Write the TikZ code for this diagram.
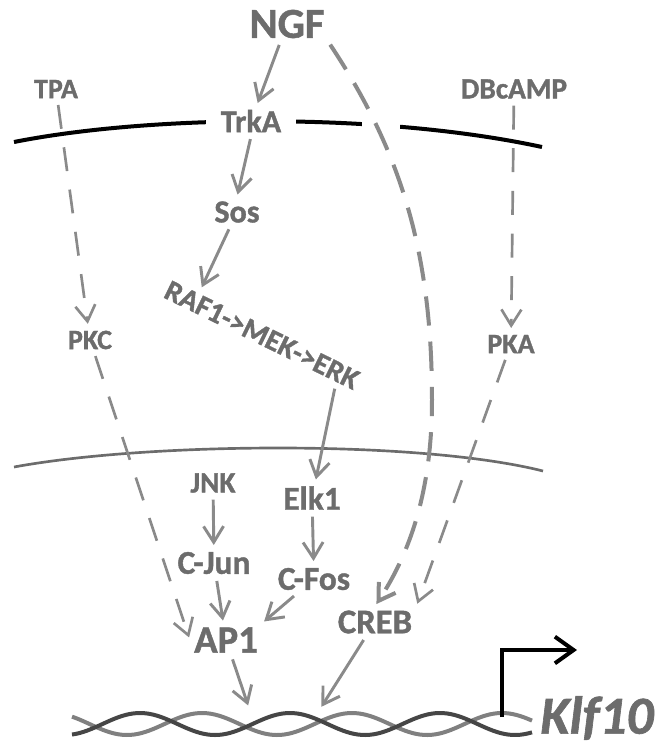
\documentclass[tikz,border=0pt]{standalone}
\usepackage{fontspec}
\setmainfont{Carlito}[BoldFeatures={FakeBold=1.2}, BoldItalicFeatures={FakeBold=1.2}]
\usepackage{xcolor}
\usepackage{tikz}
\usetikzlibrary{arrows.meta,calc}

\definecolor{txtgray}{RGB}{108,108,108}
\definecolor{arrgray}{RGB}{138,138,138}
\definecolor{dnadark}{RGB}{70,70,70}
\definecolor{dnalight}{RGB}{128,128,128}
\newcommand{\setfs}[1]{\fontsize{#1}{#1}\selectfont}

\begin{document}
\begin{tikzpicture}[x=0.75pt, y=-0.75pt,
    lbl/.style={text=txtgray, inner sep=3pt},
    arr/.style={-{Straight Barb[length=12pt, width=15pt]}, draw=arrgray, line width=2.2pt,
        shorten <=2pt, shorten >=2pt},
    darr/.style={arr, line width=2pt, dash pattern=on 18pt off 14pt}]

    \useasboundingbox (0,0) rectangle (670,744);

    % cell and nuclear membranes
    \draw[line width=3pt] (14,142) .. controls (150,115) and (380,112) .. (542,147);
    \fill[white] (362,105) rectangle (400,145);
    \draw[txtgray, line width=2pt] (14,467) .. controls (150,442) and (420,440) .. (543,471);

    \node[lbl, font=\bfseries\setfs{32}] (ngf) at (287,24) {NGF};
    \node[lbl, font=\bfseries\setfs{21}] (tpa) at (56,89) {TPA};
    \node[lbl, font=\bfseries\setfs{22}] (dbc) at (514,89) {DBcAMP};
    \node[lbl, font=\bfseries\setfs{24}, fill=white, inner xsep=11pt] (trka) at (251,121) {TrkA};
    \node[lbl, font=\bfseries\setfs{24}] (sos) at (237,212) {Sos};
    \node[lbl, font=\bfseries\setfs{22}, rotate=-26] (raf) at (262,335) {RAF1->MEK->ERK};
    \node[lbl, font=\bfseries\setfs{21}] (pkc) at (90,340) {PKC};
    \node[lbl, font=\bfseries\setfs{21}] (pka) at (511,344) {PKA};
    \node[lbl, font=\bfseries\setfs{22}] (jnk) at (213,483) {JNK};
    \node[lbl, font=\bfseries\setfs{25}] (elk) at (312,498) {Elk1};
    \node[lbl, font=\bfseries\setfs{25}] (cjun) at (214,563) {C-Jun};
    \node[lbl, font=\bfseries\setfs{25}] (cfos) at (314,579) {C-Fos};
    \node[lbl, font=\bfseries\setfs{29}] (ap1) at (226,640) {AP1};
    \node[lbl, font=\bfseries\setfs{26}] (creb) at (375,622) {CREB};
    \node[lbl, font=\bfseries\itshape\setfs{40}, inner sep=0pt] (klf) at (597,718) {Klf10};

    \coordinate (dnaA) at (249,708);
    \coordinate (dnaC) at (320,709);
    \coordinate (tss) at (502,717);
    \coordinate (tssend) at (577,650);

    \draw[arr] (ngf) -- (trka);
    \draw[arr] (trka.south) -- (sos.north);
    \draw[arr] (sos) -- ($(raf.north west)!0.16!(raf.north east)$);
    \draw[arr] ($(raf.south west)!0.9!(raf.south east)$) -- (elk);
    \draw[darr] (tpa) -- (pkc);
    \draw[darr] (pkc) -- (ap1.west);
    \draw[darr] (dbc) -- (pka);
    \draw[darr] (pka) -- (creb.north east);
    \draw[darr, line width=3pt, dash pattern=on 22pt off 12pt] (ngf.south east)
        .. controls (400,150) and (432,250) .. (432,400)
        .. controls (432,500) and (405,560) .. (creb.north);
    \draw[arr] (jnk) -- (cjun);
    \draw[arr] (elk) -- (cfos);
    \draw[arr] (cjun) -- (ap1);
    \draw[arr] (cfos) -- (ap1.north east);
    \draw[arr] (ap1) -- (dnaA);
    \draw[arr] (creb) -- (dnaC);

    % DNA double strand
    \draw[dnalight, line width=3pt, domain=72:532, samples=120, smooth]
        plot (\x, {724-11*sin(2.4*(\x-164.5))});
    \draw[dnadark, line width=3pt, domain=72:532, samples=120, smooth]
        plot (\x, {724-11*sin(2.4*(\x-102.5))});

    % transcription start
    \draw[-{Straight Barb[length=14pt, width=20pt]}, line width=3pt] (tss) |- (tssend);

\end{tikzpicture}
\end{document}
